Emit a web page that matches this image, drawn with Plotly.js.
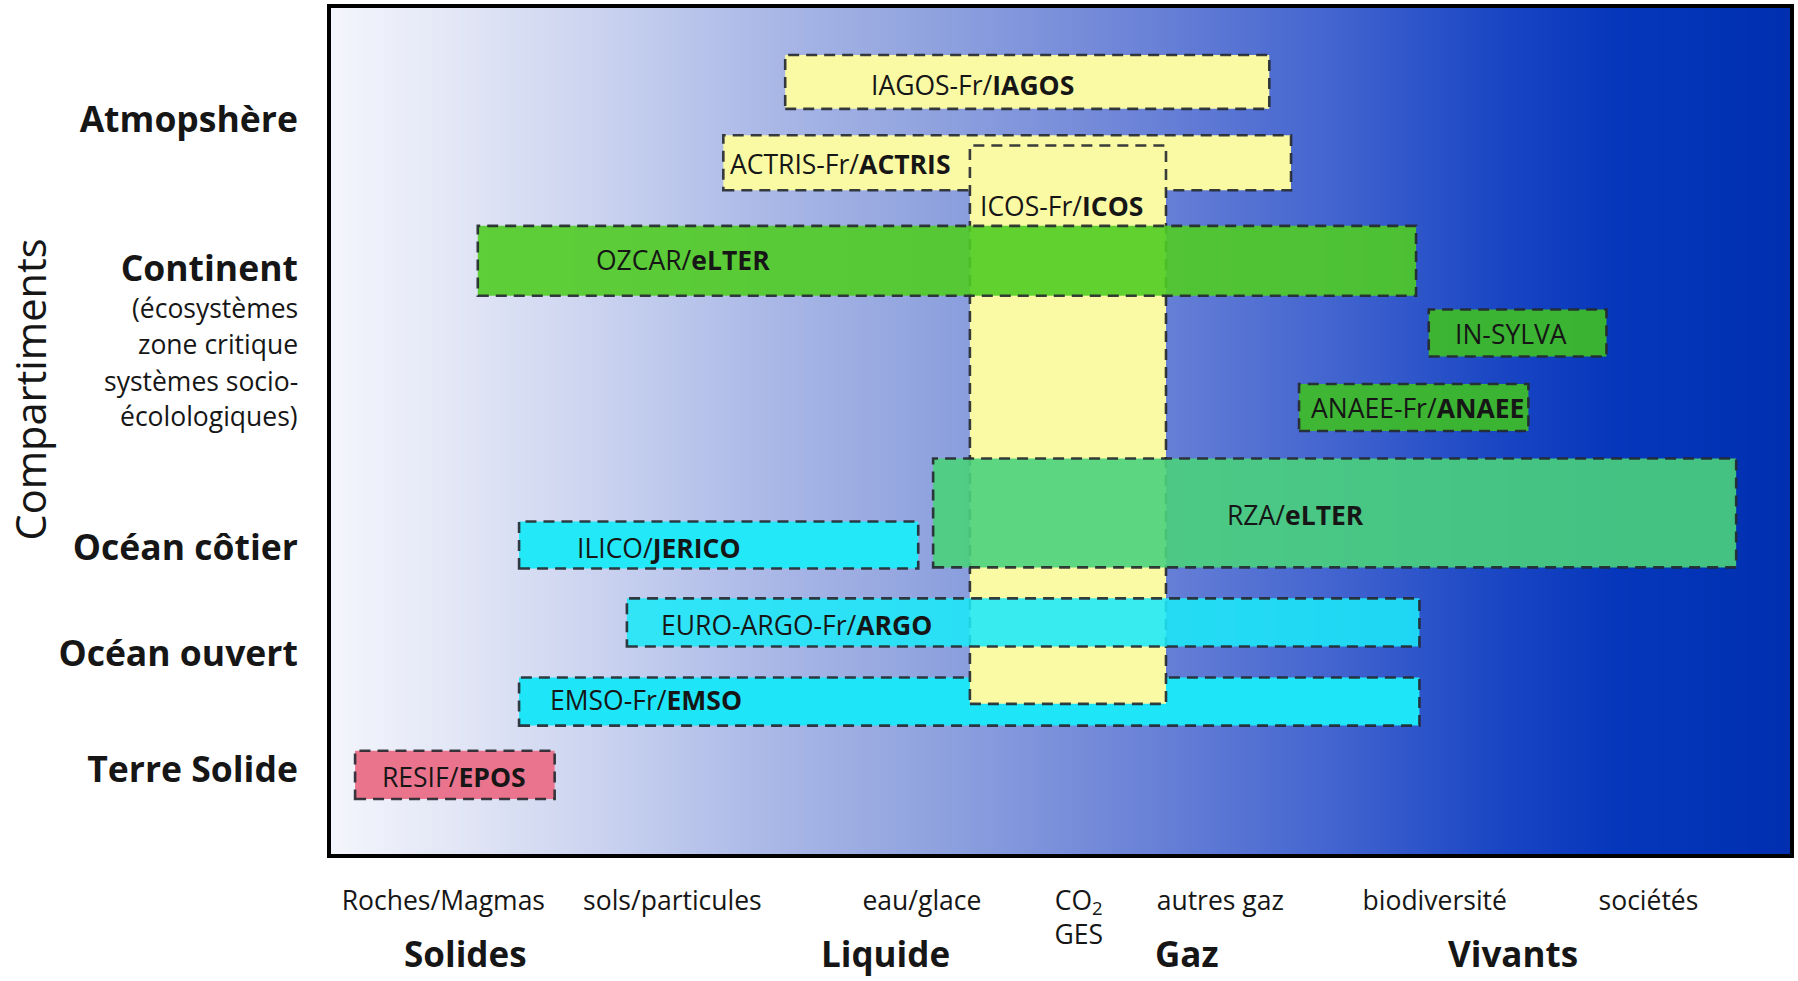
<!DOCTYPE html>
<html>
<head>
<meta charset="utf-8">
<script src="https://cdn.plot.ly/plotly-3.0.1.min.js"></script>
<style>html,body{margin:0;padding:0;background:#fff}#chart{width:1798px;height:981px}</style>
</head>
<body>
<div id="chart"></div>
<script>
// ---- data ----
const rowLabels = ['Atmopshère', 'Continent', 'Océan côtier', 'Océan ouvert', 'Terre Solide'];
const rowPos = [86.86, 69.24, 36.18, 23.71, 10.03];
const continentNotes = ['(écosystèmes', 'zone critique', 'systèmes socio-', 'écolologiques)'];
const notePos = [64.49, 60.30, 55.96, 51.77];

const xCats = ['Roches/Magmas', 'sols/particules', 'eau/glace', 'CO<sub>2</sub><br>GES', 'autres gaz', 'biodiversité', 'sociétés'];
const xPos = [7.7, 23.4, 40.5, 51.25, 60.95, 75.65, 90.3];
const groupLabels = ['Solides', 'Liquide', 'Gaz', 'Vivants'];
const groupPos = [9.25, 38.0, 58.7, 81.0];

// infrastructures (drawing order = array order)
const infraNames = ['ACTRIS-Fr/<b>ACTRIS</b>', 'EMSO-Fr/<b>EMSO</b>', 'ICOS-Fr/<b>ICOS</b>', 'IAGOS-Fr/<b>IAGOS</b>',
  'OZCAR/<b>eLTER</b>', 'RZA/<b>eLTER</b>', 'EURO-ARGO-Fr/<b>ARGO</b>', 'ILICO/<b>JERICO</b>',
  'IN-SYLVA', 'ANAEE-Fr/<b>ANAEE</b>', 'RESIF/<b>EPOS</b>'];
const infraX0 = [26.89, 12.89, 43.79, 31.13, 10.06, 41.27, 20.28, 12.89, 75.24, 66.35, 1.65];
const infraX1 = [65.80, 74.60, 57.23, 64.31, 74.37, 96.31, 74.60, 40.25, 87.42, 82.07, 15.33];
const infraY0 = [78.46, 15.18, 17.75, 88.08, 65.99, 33.88, 24.53, 33.74, 58.81, 50.00, 6.50];
const infraY1 = [84.96, 20.87, 83.74, 94.44, 74.25, 46.75, 30.22, 39.30, 64.36, 55.56, 12.20];
const infraColor = ['rgb(250,250,165)', 'rgb(30,230,248)', 'rgb(250,250,165)', 'rgb(250,250,165)',
  'rgba(80,204,36,0.9)', 'rgba(74,210,124,0.9)', 'rgba(28,232,248,0.88)', 'rgb(34,232,248)',
  'rgba(62,188,40,0.93)', 'rgba(62,188,40,0.93)', 'rgba(234,110,136,0.96)'];
const labelX = [27.2, 21.62, 50.08, 43.95, 24.13, 66.11, 31.92, 22.48, 80.9, 74.45, 8.41];
const labelY = [81.57, 18.16, 76.56, 90.92, 70.19, 40.1, 27.1, 36.18, 61.52, 52.71, 9.08];
const labelAnchor = ['left', 'center', 'center', 'center', 'center', 'center', 'center', 'center', 'center', 'center', 'center'];

// background gradient stops
const bgX = [0, 100];
const bgScale = [[0, '#f4f5fc'], [0.1, '#dfe4f5'], [0.2, '#c6cfee'], [0.3, '#aab8e7'], [0.4, '#93a5df'],
  [0.56, '#6a82d7'], [0.68, '#4566d0'], [0.8, '#1a46c4'], [0.88, '#0636bb'], [1, '#0030b0']];

// ---- build ----
const FONT = 'Open Sans, Noto Sans, sans-serif';
const TXT = '#161616';

const traces = [{
  type: 'heatmap', x: bgX, y: [0, 100], z: [bgX, bgX], zmin: 0, zmax: 100,
  colorscale: bgScale, showscale: false, zsmooth: 'best', hoverinfo: 'skip'
}];

const shapes = infraNames.map((n, i) => ({
  type: 'rect', xref: 'x', yref: 'y', layer: 'above',
  x0: infraX0[i], x1: infraX1[i], y0: infraY0[i], y1: infraY1[i],
  fillcolor: infraColor[i],
  line: {color: 'rgba(35,40,45,0.9)', width: 2.6, dash: '11px,7px'}
}));

const annotations = [];
infraNames.forEach((n, i) => annotations.push({
  xref: 'x', yref: 'y', x: labelX[i], y: labelY[i], text: n, showarrow: false,
  xanchor: labelAnchor[i], yanchor: 'middle', font: {family: FONT, size: 26.5, color: TXT}
}));
continentNotes.forEach((t, i) => annotations.push({
  xref: 'paper', yref: 'y', x: -0.0213, y: notePos[i], text: t, showarrow: false,
  xanchor: 'right', yanchor: 'middle', font: {family: FONT, size: 26.5, color: TXT}
}));
groupLabels.forEach((t, i) => annotations.push({
  xref: 'x', yref: 'paper', x: groupPos[i], y: -0.118, text: '<b>' + t + '</b>', showarrow: false,
  xanchor: 'center', yanchor: 'middle', font: {family: FONT, size: 35, color: TXT}
}));
annotations.push({
  xref: 'paper', yref: 'y', x: -0.2065, y: 54.88, text: 'Compartiments', showarrow: false,
  textangle: -90, xanchor: 'center', yanchor: 'middle', font: {family: FONT, size: 41.5, color: TXT}
});

const layout = {
  width: 1798, height: 981,
  margin: {l: 331, r: 8, t: 8, b: 127},
  paper_bgcolor: '#ffffff', plot_bgcolor: '#ffffff',
  showlegend: false,
  xaxis: {
    range: [0, 100], tickmode: 'array', tickvals: xPos, ticktext: xCats,
    showgrid: false, zeroline: false, showline: true, mirror: true, linecolor: '#000', linewidth: 4,
    ticks: '', ticklabelstandoff: 20, tickfont: {family: FONT, size: 26.5, color: TXT}, fixedrange: true
  },
  yaxis: {
    range: [0, 100], tickmode: 'array', tickvals: rowPos, ticktext: rowLabels.map(t => '<b>' + t + '</b>'),
    showgrid: false, zeroline: false, showline: true, mirror: true, linecolor: '#000', linewidth: 4,
    ticks: '', ticklabelstandoff: 22, tickfont: {family: FONT, size: 35.5, color: TXT}, fixedrange: true
  },
  shapes: shapes,
  annotations: annotations
};

Plotly.newPlot('chart', traces, layout, {displayModeBar: false, staticPlot: true});
</script>
</body>
</html>
